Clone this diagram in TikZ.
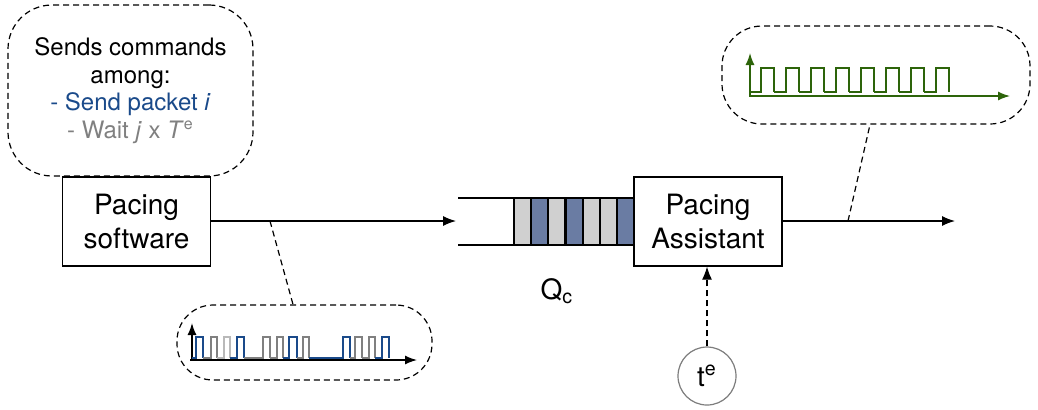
\documentclass[tikz,border=0pt]{standalone}
\usepackage{fontspec}
\setmainfont{TeX Gyre Heros}
\usetikzlibrary{arrows.meta,positioning}
\definecolor{sendblue}{RGB}{26,74,138}
\definecolor{waitgray}{RGB}{128,128,128}
\definecolor{lightg}{RGB}{185,185,185}
\definecolor{cellblue}{RGB}{106,124,163}
\definecolor{cellgray}{RGB}{208,208,208}
\definecolor{siggreen}{RGB}{45,100,10}
\definecolor{circgray}{RGB}{125,125,125}
\tikzset{
  blockbox/.style={draw,line width=0.6pt,minimum width=74pt,minimum height=44.5pt,align=center,font=\fontsize{14}{17}\selectfont,inner sep=0pt},
  callout/.style={draw,dashed,dash pattern=on 3pt off 2pt,line width=0.6pt},
  flow/.style={line width=0.6pt,-{Latex[length=6.5pt,width=5pt]}},
  leader/.style={dashed,dash pattern=on 3pt off 2pt,line width=0.6pt},
  cellstyle/.style={draw,line width=0.6pt},
  sigaxis/.style={line width=0.7pt,-{Latex[length=6pt,width=4.5pt]}},
}
\begin{document}
\begin{tikzpicture}[x=0.5pt,y=-0.5pt]
\useasboundingbox (0,0) rectangle (1038,409);

% top-left callout
\node[callout,rounded corners=22pt,minimum width=122.5pt,minimum height=85.5pt,align=center,
      font=\fontsize{12}{13.8}\selectfont,inner sep=0pt] (cmd) at (130.5,90.5)
  {Sends commands\\among:\\\textcolor{sendblue}{- Send packet \textit{i}}\\\textcolor{waitgray}{- Wait \textit{j} x \textit{T}\textsuperscript{e}}};

% Pacing software
\node[blockbox] (ps) at (136.5,221.5) {Pacing\\software};

% queue
\coordinate (qin) at (456,221);
\draw[line width=0.6pt] (458,198) -- (634,198);
\draw[line width=0.6pt] (458,245) -- (634,245);
\foreach \x/\c in {514/cellgray,531/cellblue,548/cellgray,566/cellblue,583/cellgray,600/cellgray,617/cellblue}{
  \pgfmathsetmacro{\xe}{\x+17}
  \draw[cellstyle,fill=\c] (\x,198) rectangle (\xe,245);
}
\node[font=\fontsize{14}{17}\selectfont] (qc) at (557,291) {Q\textsubscript{c}};

% Pacing Assistant
\node[blockbox,fill=white] (pa) at (708,221.5) {Pacing\\Assistant};
\coordinate (out) at (955,221);

\draw[flow] (ps.east |- qin) -- (qin);
\draw[flow] (pa.east |- out) -- (out);

% t^e
\node[draw=circgray,circle,line width=0.6pt,minimum size=29pt,inner sep=0pt,font=\fontsize{14}{17}\selectfont] (te) at (707,376) {t\textsuperscript{e}};
\draw[leader,-{Latex[length=6.5pt,width=5pt]}] (te.north) -- (te.north |- pa.south);

% bottom callout
\node[callout,rounded corners=18pt,minimum width=127.5pt,minimum height=37.5pt] (sig1) at (304.5,342.5) {};
\coordinate (l1) at (270,221);
\draw[leader] (l1) -- (sig1.north -| 293,0);
\draw[sigaxis] (190,360) -- (417,360);
\draw[sigaxis] (192,360) -- (192,323);
\foreach \s/\r/\f/\c in {192/196/203/sendblue,203/211/217/waitgray,217/224/230/lightg,230/237/244/sendblue,
  244/263/270/waitgray,270/277/283/waitgray,283/289/297/sendblue,297/303/309/waitgray,
  309/343/350/sendblue,350/355/362/waitgray,362/369/375/waitgray,375/382/389/sendblue}{
  \draw[\c,line width=0.7pt] (\s,358) -- (\r,358) -- (\r,337) -- (\f,337) -- (\f,358);
}

% top-right callout
\node[callout,rounded corners=20pt,minimum width=154pt,minimum height=49pt] (sig2) at (876,75) {};
\coordinate (l2) at (848,221);
\draw[leader] (l2) -- (sig2.south -| 870,0);
\draw[sigaxis,siggreen] (749,96) -- (1010,96);
\draw[sigaxis,siggreen] (750,96) -- (750,53);
\foreach \k in {0,...,7}{
  \pgfmathsetmacro{\r}{761+25*\k}
  \pgfmathsetmacro{\f}{774+25*\k}
  \pgfmathsetmacro{\s}{\k==0 ? 749 : 774+25*(\k-1)}
  \draw[siggreen,line width=0.7pt] (\s,92) -- (\r,92) -- (\r,68) -- (\f,68) -- (\f,92);
}
\end{tikzpicture}
\end{document}
